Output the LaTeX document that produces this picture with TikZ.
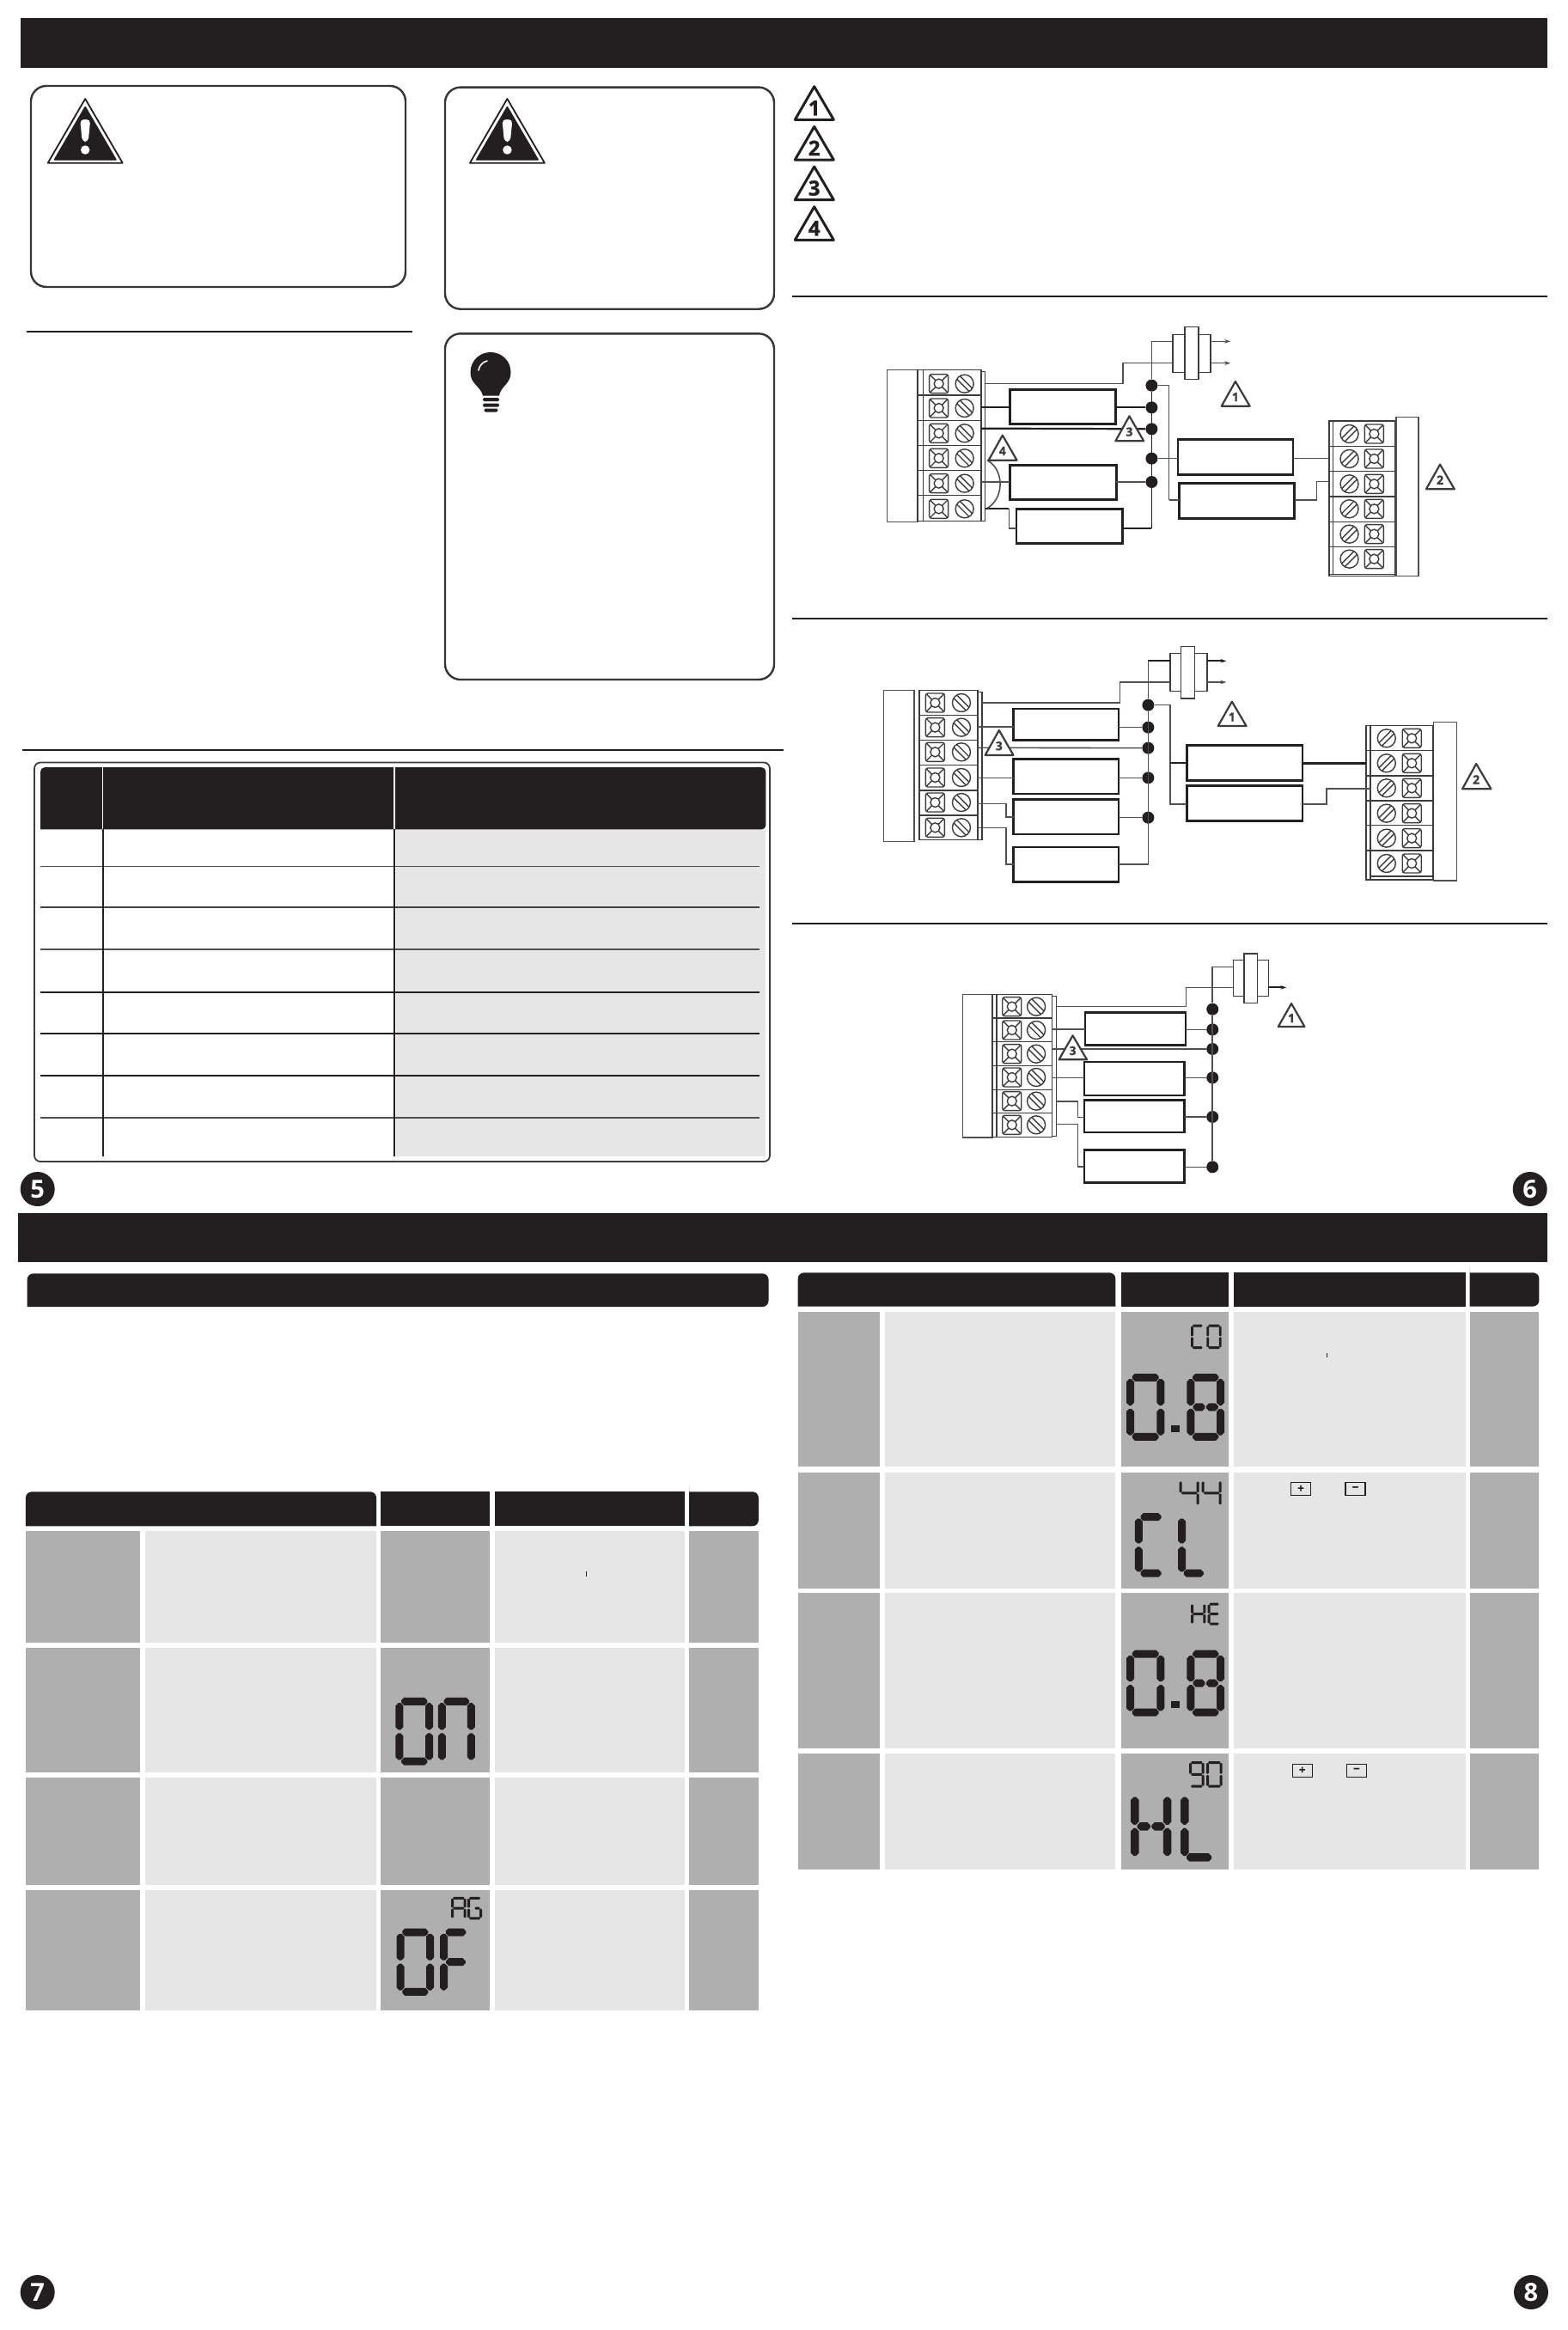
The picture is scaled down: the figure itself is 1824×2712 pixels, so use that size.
\documentclass[tikz,border=0pt]{standalone}
\usepackage{fontspec}
\setmainfont{Open Sans}
\newfontfamily\trifont{Open Sans}[BoldFeatures={FakeBold=1.2}]
\usetikzlibrary{fit,calc,arrows.meta}
\definecolor{ink}{HTML}{231F20}
\definecolor{cellD}{HTML}{AFAFAF}
\definecolor{cellL}{HTML}{E6E6E6}
\definecolor{wireG}{HTML}{505050}
\definecolor{termG}{HTML}{3C3C3C}
\tikzset{
  rulew/.style={ink,line width=2.5pt},
  panelbox/.style={draw=ink!90,line width=2.4pt,rounded corners=18pt},
  thickbox/.style={rectangle,draw=ink,line width=2.5pt,fill=white},
  capbox/.style={rectangle,draw=termG,line width=1.5pt,fill=white},
  blankbox/.style={rectangle,draw=wireG,line width=1.6pt,fill=white},
  wirek/.style={draw=ink,line width=2.2pt},
  wiret/.style={draw=wireG,line width=1.6pt},
  term/.style={draw=termG,line width=1.4pt},
  termrow/.style={draw=termG,line width=1.6pt},
  jdot/.style={circle,fill=ink,inner sep=0pt,minimum size=14pt},
  tribig/.style={draw=ink,line width=3pt,line join=round,fill=white},
  trismall/.style={draw=termG,line width=2.2pt,line join=round,fill=white},
  numbig/.style={inner sep=0pt,font=\trifont\fontsize{24}{24}\selectfont\bfseries,text=ink},
  numsmall/.style={inner sep=0pt,font=\trifont\fontsize{14}{14}\selectfont\bfseries,text=termG},
  pagenum/.style={circle,fill=ink,text=white,inner sep=0pt,minimum size=40pt,font=\fontsize{29}{29}\selectfont\bfseries},
  tip/.style={-{Stealth[length=7pt,width=4.5pt]}},
  keybox/.style={rectangle,draw=ink,line width=1.2pt,fill=cellL,inner sep=0pt,minimum width=23pt,minimum height=15pt,font=\trifont\fontsize{13}{13}\selectfont\bfseries,text=ink},
  sqicon/.pic={\begin{scope}[x=1pt,y=1pt]
    \draw[term,rounded corners=2.5pt] (-11,-11) rectangle (11,11);
    \draw[term] (0,0) circle (5.5);
    \foreach \a in {45,135,225,315} \draw[term] (\a:5.5) -- (\a:14);
  \end{scope}},
  screwL/.pic={\begin{scope}[x=1pt,y=1pt]
    \draw[term] (0,0) circle (10.5);
    \draw[term] (-5.4,9) -- (9,-5.4);
    \draw[term] (-9,5.4) -- (5.4,-9);
  \end{scope}},
  screwR/.pic={\begin{scope}[x=1pt,y=1pt]
    \draw[term] (0,0) circle (10.5);
    \draw[term] (5.4,9) -- (-9,-5.4);
    \draw[term] (9,5.4) -- (-5.4,-9);
  \end{scope}},
}
\newcommand\rbox[6]{\coordinate (#1-a) at (#2,#3); \coordinate (#1-b) at (#4,#5);
  \node[#6,fit=(#1-a)(#1-b),inner sep=0pt,outer sep=0pt] (#1) {};}
\newcommand\tri[8]{\draw[#8] (#5,#4) -- (#2,#3) -- (#6,#4) -- cycle;
  \coordinate (#1-c) at ($(#2,#4)!0.37!(#2,#3)$);}
\newcommand\lcdh[3]{\fill[ink] ({#1},{(#3)-\LT*0.15}) -- ({(#1)+\LT*0.35},{(#3)-\LT/2}) -- ({(#2)-\LT*0.35},{(#3)-\LT/2}) -- ({#2},{(#3)-\LT*0.15}) -- ({#2},{(#3)+\LT*0.15}) -- ({(#2)-\LT*0.35},{(#3)+\LT/2}) -- ({(#1)+\LT*0.35},{(#3)+\LT/2}) -- ({#1},{(#3)+\LT*0.15}) -- cycle;}
\newcommand\lcdv[3]{\fill[ink] ({(#1)-\LT*0.15},{#2}) -- ({(#1)-\LT/2},{(#2)+\LT*0.35}) -- ({(#1)-\LT/2},{(#3)-\LT*0.35}) -- ({(#1)-\LT*0.15},{#3}) -- ({(#1)+\LT*0.15},{#3}) -- ({(#1)+\LT/2},{(#3)-\LT*0.35}) -- ({(#1)+\LT/2},{(#2)+\LT*0.35}) -- ({(#1)+\LT*0.15},{#2}) -- cycle;}
\expandafter\def\csname lcd@a\endcsname{\lcdh{\LT*0.75}{\LW-\LT*0.75}{\LT/2}}
\expandafter\def\csname lcd@d\endcsname{\lcdh{\LT*0.75}{\LW-\LT*0.75}{\LH-\LT/2}}
\expandafter\def\csname lcd@f\endcsname{\lcdv{\LT/2}{\LT*0.7}{\LH/2-\LT*0.22}}
\expandafter\def\csname lcd@e\endcsname{\lcdv{\LT/2}{\LH/2+\LT*0.22}{\LH-\LT*0.7}}
\expandafter\def\csname lcd@b\endcsname{\lcdv{\LW-\LT/2}{\LT*0.7}{\LH/2-\LT*0.22}}
\expandafter\def\csname lcd@c\endcsname{\lcdv{\LW-\LT/2}{\LH/2+\LT*0.22}{\LH-\LT*0.7}}
\expandafter\def\csname lcd@m\endcsname{\lcdh{\LT*0.8}{\LW-\LT*0.8}{\LH/2}}
\expandafter\def\csname lcd@p\endcsname{\lcdh{\LT*0.8}{\LW/2-\LT*0.08}{\LH/2}}
\expandafter\def\csname lcd@q\endcsname{\lcdh{\LW/2+\LT*0.08}{\LW-\LT*0.8}{\LH/2}}
\newcommand\lcd[6]{\begin{scope}[shift={(#1,#2)}]\def\LW{#3}\def\LH{#4}\def\LT{#5}%
  \foreach \s in {#6} {\csname lcd@\s\endcsname}\end{scope}}
\begin{document}
\begin{tikzpicture}[x=1pt,y=-1pt]
\fill[white] (0,0) rectangle (1824,2712);
\useasboundingbox (0,0) rectangle (1824,2712);
%% bars
\fill[ink] (23.5,21.3) rectangle (1801,78.6);
\fill[ink] (21.3,1412.3) rectangle (1801,1469.3);
\fill[ink,rounded corners=7pt] (31.7,1521) -- (31.7,1482.3) -- (894.5,1482.3) -- (894.5,1521) [sharp corners] -- cycle;
%% panels
\draw[panelbox] (36,100) rectangle (472,334);
\draw[panelbox] (518,101.6) rectangle (901,359.7);
\draw[panelbox] (518,388.3) rectangle (901,791);
%% warning triangles
\foreach \cx in {99.2,590.4} {
  \draw[ink,line width=1.8pt,line join=round] (\cx-43.5,189.7) -- (\cx,115) -- (\cx+43.5,189.7) -- cycle;
  \fill[ink,rounded corners=1pt] (\cx-37,186.5) -- (\cx,123) -- (\cx+37,186.5) -- cycle;
  \fill[white,rounded corners=4.5pt] (\cx-6,139) -- (\cx+6,139) -- (\cx+3.5,165) -- (\cx-3.5,165) -- cycle;
  \fill[white] (\cx,174.5) circle (5.2);
}
%% bulb
\fill[ink] (562,460.5) .. controls (559,449) and (547.5,447) .. (547.5,433.5)
  .. controls (547.5,420) and (558,410) .. (571,410)
  .. controls (584,410) and (594.5,420) .. (594.5,433.5)
  .. controls (594.5,447) and (583,449) .. (581,460.5) -- cycle;
\draw[white,line width=1.6pt,line cap=round] (557,431) .. controls (558,425) and (562,421.5) .. (567,420);
\fill[ink,rounded corners=1.5pt] (562,463) rectangle (581,467);
\fill[ink,rounded corners=1.5pt] (562,469.5) rectangle (581,473.5);
\fill[ink,rounded corners=2pt] (563.5,475.5) rectangle (579.5,479.5);
%% rules
\draw[rulew] (30.5,386) -- (480,386);
\draw[rulew] (26.4,873.2) -- (912,873.2);
\draw[rulew] (922,345) -- (1801,345);
\draw[rulew] (922,720) -- (1801,720);
\draw[rulew] (922,1075) -- (1801,1075);
%% legend triangles
\foreach \n/\yy in {1/100.7,2/147.4,3/194,4/240.7} {
  \draw[tribig] (925.3,\yy+38.6) -- (947.7,\yy) -- (970.3,\yy+38.6) -- cycle;
  \node[numbig] (leg\n) at (947.7,\yy+25) {\n};
}
%% spec table
\draw[draw=termG,line width=1.8pt,rounded corners=7pt] (40,887.5) rectangle (896,1352);
\fill[cellL] (460.7,965.4) rectangle (891.4,1346.4);
\fill[ink,rounded corners=5pt] (47,965.4) -- (47,893.2) -- (891.4,893.2) -- (891.4,965.4) [sharp corners] -- cycle;
\draw[white,line width=1.2pt] (119.7,893.2) -- (119.7,965.4);
\draw[white,line width=1.2pt] (459,893.2) -- (459,965.4);
\draw[wireG,line width=1.5pt] (47,1008.6) -- (884.4,1008.6);
\draw[ink!85,line width=1.6pt] (47,1055.7) -- (884.4,1055.7);
\draw[wireG,line width=1.5pt] (47,1105) -- (884.4,1105);
\draw[ink,line width=2.6pt] (47,1155) -- (884.4,1155);
\draw[ink,line width=2.3pt] (47,1202.9) -- (884.4,1202.9);
\draw[ink,line width=2.3pt] (47,1252.1) -- (884.4,1252.1);
\draw[wireG,line width=1.5pt] (47,1301.1) -- (884.4,1301.1);
\draw[ink,line width=2.4pt] (119.7,965.4) -- (119.7,1346.4);
\draw[ink,line width=2.4pt] (459,965.4) -- (459,1346.4);
%% page numbers
\node[pagenum] (p5) at (43.7,1384) {5};
\node[pagenum] (p6) at (1780.7,1384) {6};
\node[pagenum] (p7) at (43.7,2668) {7};
\node[pagenum] (p8) at (1782,2668) {8};
%% left settings table
\fill[ink,rounded corners=7pt] (29.9,1776.3) -- (29.9,1736.3) -- (438,1736.3) [sharp corners] -- (438,1776.3) -- cycle;
\fill[ink] (443,1736.3) rectangle (569.5,1776.3);
\fill[ink] (575.8,1736.3) rectangle (796.8,1776.3);
\fill[ink,rounded corners=7pt] (802,1776.3) -- (802,1736.3) [sharp corners] -- (802,1736.3) [rounded corners=7pt] -- (882.9,1736.3) -- (882.9,1776.3) [sharp corners] -- cycle;
\foreach \ya/\yb in {1781.6/1911.8,1917.6/2062.9,2068.6/2193.9,2199.6/2340.4} {
  \fill[cellD] (29.9,\ya) rectangle (163,\yb);
  \fill[cellL] (169.3,\ya) rectangle (438,\yb);
  \fill[cellD] (443,\ya) rectangle (569.5,\yb);
  \fill[cellL] (575.8,\ya) rectangle (796.8,\yb);
  \fill[cellD] (802,\ya) rectangle (882.9,\yb);
}
\draw[ink,line width=0.8pt] (682,1829) -- (682,1835);
\lcd{460.4}{1975.9}{43.6}{78.8}{9}{a,b,c,d,e,f}
\lcd{509.8}{1975.9}{43}{78.8}{9}{a,b,c,e,f}
\lcd{525}{2207.8}{17.5}{26.5}{3}{a,b,c,e,f,m}
\lcd{544}{2207.8}{17}{26.5}{3}{a,c,d,e,f,q}
\lcd{461.5}{2244.5}{43.5}{78.4}{9}{a,b,c,d,e,f}
\lcd{512}{2244.5}{37}{78.4}{9}{a,e,f,m}
%% right settings table
\fill[ink,rounded corners=7pt] (928.7,1520.5) -- (928.7,1481.3) -- (1298.3,1481.3) [sharp corners] -- (1298.3,1520.5) -- cycle;
\fill[ink] (1304.7,1481.3) rectangle (1430.4,1520.5);
\fill[ink] (1436,1481.3) rectangle (1705.5,1520.5);
\fill[ink,rounded corners=7pt] (1710.6,1520.5) -- (1710.6,1481.3) [sharp corners] -- (1710.6,1481.3) [rounded corners=7pt] -- (1791.4,1481.3) -- (1791.4,1520.5) [sharp corners] -- cycle;
\foreach \ya/\yb in {1526.6/1706.9,1714/1849,1854/2034.9,2040.5/2176} {
  \fill[cellD] (928.7,\ya) rectangle (1023.8,\yb);
  \fill[cellL] (1030.2,\ya) rectangle (1298.3,\yb);
  \fill[cellD] (1304.7,\ya) rectangle (1430.4,\yb);
  \fill[cellL] (1436,\ya) rectangle (1705.5,\yb);
  \fill[cellD] (1710.6,\ya) rectangle (1791.4,\yb);
}
\draw[ink,line width=0.8pt] (1544,1574.5) -- (1544,1579.5);
\lcd{1386}{1541.7}{15.5}{28.3}{2.8}{a,d,e,f}
\lcd{1404.4}{1541.7}{17.3}{28.3}{2.8}{a,b,c,d,e,f}
\lcd{1311}{1598.8}{44.4}{78}{9}{a,b,c,d,e,f}
\fill[ink] (1363.2,1658.8) rectangle (1372.7,1667.3);
\lcd{1381.4}{1598.8}{43.6}{78}{9}{a,b,c,d,e,f,p,q}
\lcd{1372.7}{1722.5}{23}{30.7}{3}{b,c,f,m}
\lcd{1398.7}{1722.5}{23}{30.7}{3}{b,c,f,m}
\lcd{1320.8}{1761.2}{37.5}{74.5}{9}{a,d,e,f}
\lcd{1371}{1761.2}{36.5}{74.5}{9}{d,e,f}
\lcd{1386}{1865.5}{17.3}{26}{3}{b,c,e,f,m}
\lcd{1405.6}{1865.5}{15}{26}{3}{a,d,e,f,m}
\lcd{1311}{1920.7}{44.4}{77}{9}{a,b,c,d,e,f}
\fill[ink] (1363.2,1979.7) rectangle (1372.7,1988.2);
\lcd{1381.4}{1920.7}{43.6}{77}{9}{a,b,c,d,e,f,p,q}
\lcd{1384}{2050}{17.7}{30.7}{3}{a,b,c,d,f,m}
\lcd{1404}{2050}{18.7}{30.7}{3}{a,b,c,d,e,f}
\lcd{1316}{2085}{47.3}{81.7}{9.5}{b,c,e,f,p,q}
\lcd{1374}{2085}{43.3}{81.7}{9.5}{d,e,f}
\node[keybox] (kp1) at (1514,1732.8) {+};
\node[keybox] (km1) at (1577.4,1732.8) {−};
\node[keybox] (kp2) at (1515.7,2060.6) {+};
\node[keybox] (km2) at (1578.9,2060.6) {−};
%% ===== diagram A =====
\begin{scope}[shift={(920,340)},x=0.5767pt,y=-0.3333pt]
  \rbox{a-blank}{195}{272}{257}{802}{blankbox}
  \draw[termrow] (257,272) rectangle (385,800);
  \draw[termrow] (385,278) rectangle (393,800);
  \draw[termrow] (268,272) -- (268,800);
  \foreach \y in {360,448,536,622,710} \draw[termrow] (257,\y) -- (385,\y);
  \foreach \y in {320,405,493,580,668,757} { \pic at (299.4,\y) {sqicon}; \pic at (351.4,\y) {screwL}; }
  \coordinate (a-t1) at (393,320); \coordinate (a-t2) at (385,403); \coordinate (a-t3) at (385,476);
  \coordinate (a-t5) at (385,663); \coordinate (a-t6) at (393,755);
  \rbox{a-box1}{443}{340}{656}{460}{thickbox}
  \rbox{a-box2}{443}{604}{658}{724}{thickbox}
  \rbox{a-box3}{456}{757}{670}{878}{thickbox}
  \rbox{a-boxD}{782}{515}{1014}{637}{thickbox}
  \rbox{a-boxE}{785}{667}{1017}{790}{thickbox}
  \rbox{a-cap}{772}{148}{848}{280}{capbox}
  \rbox{a-capc}{796}{122}{824}{305}{capbox}
  \rbox{a-rblank}{1222}{437}{1268}{992}{blankbox}
  \draw[termrow] (1087,450) rectangle (1220,985);
  \draw[termrow] (1095,450) -- (1095,985);
  \draw[termrow] (1087,985) rectangle (1220,992);
  \foreach \y in {538,626,714,802,890} \draw[termrow] (1087,\y) -- (1220,\y);
  \foreach \y in {495,582,670,757,845,932} { \pic at (1128,\y) {screwR}; \pic at (1178,\y) {sqicon}; }
  \coordinate (a-k1) at (671,248); \coordinate (a-k2) at (729,172); \coordinate (a-k3) at (729,825);
  \coordinate (a-k4) at (764,726); \coordinate (a-k5) at (441,825); \coordinate (a-k6) at (1062,662);
  \coordinate (a-k7) at (1062,726); \coordinate (a-o1) at (888,172); \coordinate (a-o2) at (888,248);
  \coordinate (a-r3) at (1087,581); \coordinate (a-r5) at (1087,662);
  \node[jdot] (a-d1) at (729,326) {};
  \node[jdot] (a-d2) at (729,403) {};
  \node[jdot] (a-d3) at (729,478) {};
  \node[jdot] (a-d4) at (729,581) {};
  \node[jdot] (a-d5) at (729,663) {};
  \draw[wiret] (a-t1) -| (a-k1) -- (a-cap.west |- a-k1);
  \draw[wiret] (a-cap.west |- a-k2) -- (a-k2) -- (a-d1);
  \draw[wiret,draw=ink] (a-d1) -- (a-k3);
  \draw[wirek] (a-k3) -- (a-box3.east |- a-k3);
  \draw[wirek] (a-t2) -- (a-box1.west |- a-t2);
  \draw[wirek] (a-box1.east |- a-d2) -- (a-d2);
  \draw[wirek] (a-t3) -- (a-d3);
  \draw[wiret] (a-t5) -- (a-box2.west |- a-t5);
  \draw[wiret] (a-box2.east |- a-d5) -- (a-d5);
  \draw[wirek] (a-t6) -- (a-k5 |- a-t6);
  \draw[wiret] (a-k5 |- a-t6) -- (a-k5) -- (a-box3.west |- a-k5);
  \draw[wiret] (a-d1) -| (a-k4);
  \draw[wiret] (a-k4) -- (a-boxE.west |- a-k4);
  \draw[wiret] (a-d4) -- (a-boxD.west |- a-d4);
  \draw[wiret] (a-boxD.east |- a-r3) -- (a-r3);
  \draw[wiret] (a-boxE.east |- a-k7) -- (a-k7) -- (a-k6) -- (a-r5);
  \draw[wiret] (397,587) .. controls (432,620) and (432,720) .. (397,755);
  \draw[wiret,tip] (a-cap.east |- a-o1) -- (a-o1);
  \draw[wiret,tip] (a-cap.east |- a-o2) -- (a-o2);
  \tri{a-n1}{898}{312}{398}{870}{927}{1}{trismall} \node[numsmall] (a-l1) at (a-n1-c) {1};
  \tri{a-n2}{1311}{602}{688}{1283}{1340}{2}{trismall} \node[numsmall] (a-l2) at (a-n2-c) {2};
  \tri{a-n3}{684}{433}{520}{656}{713}{3}{trismall} \node[numsmall] (a-l3) at (a-n3-c) {3};
  \tri{a-n4}{428}{500}{587}{400}{457}{4}{trismall} \node[numsmall] (a-l4) at (a-n4-c) {4};
\end{scope}
%% ===== diagram B =====
\begin{scope}[shift={(920,720)},x=0.5767pt,y=-0.3333pt]
  \rbox{b-blank}{188}{250}{250}{778}{blankbox}
  \draw[termrow] (260,250) rectangle (378,773);
  \draw[termrow] (378,256) rectangle (387,773);
  \foreach \y in {338,425,512,600,687} \draw[termrow] (260,\y) -- (378,\y);
  \foreach \y in {294,380,466,555,642,730} { \pic at (292,\y) {sqicon}; \pic at (345,\y) {screwL}; }
  \coordinate (b-t1) at (387,294); \coordinate (b-t2) at (378,378); \coordinate (b-t3) at (378,451);
  \coordinate (b-t4) at (378,557); \coordinate (b-t5) at (378,647); \coordinate (b-t6) at (378,730);
  \rbox{b-box1}{450}{315}{662}{425}{thickbox}
  \rbox{b-box2}{450}{491}{662}{612}{thickbox}
  \rbox{b-box3}{450}{632}{662}{753}{thickbox}
  \rbox{b-box4}{450}{798}{662}{920}{thickbox}
  \rbox{b-boxE}{800}{442}{1033}{565}{thickbox}
  \rbox{b-boxF}{800}{583}{1033}{706}{thickbox}
  \rbox{b-cap}{766}{122}{841}{254}{capbox}
  \rbox{b-capc}{788}{97}{816}{279}{capbox}
  \rbox{b-rblank}{1298}{361}{1345}{915}{blankbox}
  \draw[termrow] (1162,373) rectangle (1297,912);
  \draw[termrow] (1170,373) -- (1170,912);
  \draw[termrow] (1170,900) -- (1297,900);
  \foreach \y in {461,549,636,722,810} \draw[termrow] (1162,\y) -- (1297,\y);
  \foreach \y in {418,505,592,680,767,855} { \pic at (1203,\y) {screwR}; \pic at (1254,\y) {sqicon}; }
  \coordinate (b-k1) at (665,222); \coordinate (b-k2) at (722,148); \coordinate (b-k3) at (722,858);
  \coordinate (b-k4) at (766,648); \coordinate (b-k5) at (435,693); \coordinate (b-k6) at (435,858);
  \coordinate (b-k7) at (1082,648); \coordinate (b-k8) at (1082,594); \coordinate (b-k9) at (766,505);
  \coordinate (b-o1) at (880,148); \coordinate (b-o2) at (880,222); \coordinate (b-r2) at (1162,505); \coordinate (b-r3) at (1172,594);
  \node[jdot] (b-d1) at (722,302) {};
  \node[jdot] (b-d2) at (722,380) {};
  \node[jdot] (b-d3) at (722,452) {};
  \node[jdot] (b-d4) at (722,556) {};
  \node[jdot] (b-d5) at (722,695) {};
  \draw[wiret] (b-t1) -| (b-k1) -- (b-cap.west |- b-k1);
  \draw[wirek] (b-cap.west |- b-k2) -- (b-k2);
  \draw[wiret] (b-k2) -- (b-d1);
  \draw[wiret] (b-d1) -- (b-k3) -- (b-box4.east |- b-k3);
  \draw[wiret] (b-t2) -- (b-box1.west |- b-t2);
  \draw[wiret] (b-box1.east |- b-d2) -- (b-d2);
  \draw[wiret] (b-t3) -- (b-d3);
  \draw[wiret] (b-t4) -- (b-box2.west |- b-t4);
  \draw[wiret] (b-box2.east |- b-d4) -- (b-d4);
  \draw[wiret] (b-t5) -| (b-k5) -- (b-box3.west |- b-k5);
  \draw[wiret] (b-box3.east |- b-d5) -- (b-d5);
  \draw[wiret] (b-t6) -| (b-k6) -- (b-box4.west |- b-k6);
  \draw[wiret] (b-d1) -| (b-k4) -- (b-boxF.west |- b-k4);
  \draw[wirek] (b-k9) -- (b-boxE.west |- b-k9);
  \draw[wirek,line width=2.8pt] (b-boxE.east |- b-r2) -- (b-r2);
  \draw[wiret] (b-boxF.east |- b-k7) -- (b-k7) -- (b-k8) -- (b-r3);
  \draw[wirek,tip] (b-cap.east |- b-o1) -- (b-o1);
  \draw[wiret,tip] (b-cap.east |- b-o2) -- (b-o2);
  \tri{b-n1}{891}{290}{375}{863}{920}{1}{trismall} \node[numsmall] (b-l1) at (b-n1-c) {1};
  \tri{b-n2}{1384}{507}{595}{1356}{1414}{2}{trismall} \node[numsmall] (b-l2) at (b-n2-c) {2};
  \tri{b-n3}{421}{390}{477}{393}{450}{3}{trismall} \node[numsmall] (b-l3) at (b-n3-c) {3};
\end{scope}
%% ===== diagram C =====
\begin{scope}[shift={(1040,1080)},x=0.3827pt,y=-0.3333pt]
  \rbox{c-blank}{210}{232}{300}{732}{blankbox}
  \draw[termrow] (300,232) rectangle (482,730);
  \draw[termrow] (482,238) rectangle (495,728);
  \draw[termrow] (313,232) -- (313,730);
  \foreach \y in {315,398,482,565,647} \draw[termrow] (300,\y) -- (482,\y);
  \foreach \y in {275,357,440,522,605,688} { \pic at (360,\y) {sqicon}; \pic at (434,\y) {screwL}; }
  \coordinate (c-t1) at (495,274); \coordinate (c-t2) at (482,354); \coordinate (c-t3) at (482,423);
  \coordinate (c-t4) at (482,524); \coordinate (c-t5) at (495,606); \coordinate (c-t6) at (495,686);
  \rbox{c-box1}{582}{296}{888}{409}{thickbox}
  \rbox{c-box2}{580}{468}{885}{585}{thickbox}
  \rbox{c-box3}{580}{601}{885}{714}{thickbox}
  \rbox{c-box4}{580}{776}{885}{889}{thickbox}
  \rbox{c-cap}{1033}{113}{1140}{238}{capbox}
  \rbox{c-capc}{1066}{90}{1107}{262}{capbox}
  \coordinate (c-k1) at (890,208); \coordinate (c-k2) at (970,137); \coordinate (c-k5) at (560,662); \coordinate (c-k6) at (560,834);
  \coordinate (c-o1) at (1195,208);
  \node[jdot] (c-d1) at (970,284) {};
  \node[jdot] (c-d2) at (970,355) {};
  \node[jdot] (c-d3) at (970,423) {};
  \node[jdot] (c-d4) at (970,523) {};
  \node[jdot] (c-d5) at (970,660) {};
  \node[jdot] (c-d6) at (970,835) {};
  \draw[wiret] (c-t1) -| (c-k1) -- (c-cap.west |- c-k1);
  \draw[wiret] (c-cap.west |- c-k2) -- (c-k2) -- (c-d1) -- (c-d6);
  \draw[wiret] (c-t2) -- (c-box1.west |- c-t2);
  \draw[wiret] (c-box1.east |- c-d2) -- (c-d2);
  \draw[wiret] (c-t3) -- (c-d3);
  \draw[wiret] (c-t4) -- (c-box2.west |- c-t4);
  \draw[wiret] (c-box2.east |- c-d4) -- (c-d4);
  \draw[wiret] (c-t5) -| (c-k5) -- (c-box3.west |- c-k5);
  \draw[wiret] (c-box3.east |- c-d5) -- (c-d5);
  \draw[wiret] (c-t6) -| (c-k6) -- (c-box4.west |- c-k6);
  \draw[wiret] (c-box4.east |- c-d6) -- (c-d6);
  \draw[wirek,tip] (c-cap.east |- c-o1) -- (c-o1);
  \tri{c-n1}{1210}{264}{345}{1170}{1250}{1}{trismall} \node[numsmall] (c-l1) at (c-n1-c) {1};
  \tri{c-n3}{545}{376}{460}{503}{588}{3}{trismall} \node[numsmall] (c-l3) at (c-n3-c) {3};
\end{scope}
\end{tikzpicture}
\end{document}
